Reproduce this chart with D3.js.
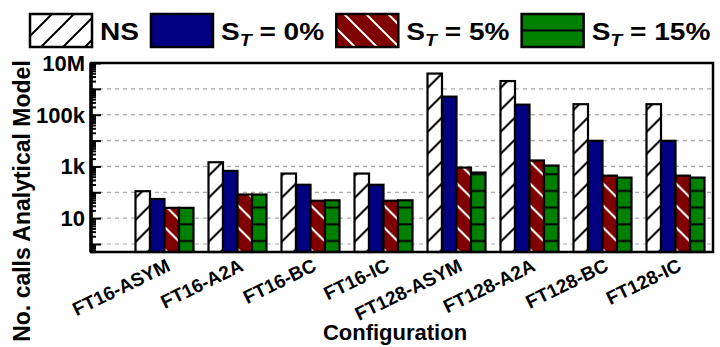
<!DOCTYPE html>
<html>
<head>
<meta charset="utf-8">
<script src="https://cdn.jsdelivr.net/npm/d3@7"></script>
<style>
  body { margin: 0; background: #fff; }
  text { font-family: "Liberation Sans", Arial, sans-serif; font-weight: bold; fill: #000; }
</style>
</head>
<body>
<script>
// chart data
var configs = ["FT16-ASYM", "FT16-A2A", "FT16-BC", "FT16-IC", "FT128-ASYM", "FT128-A2A", "FT128-BC", "FT128-IC"];
var seriesKeys = ["NS", "0%", "5%", "15%"];
var nsCalls = [110, 1450, 530, 530, 3.9e6, 2.0e6, 255000, 255000];
var st0Calls = [55, 670, 195, 195, 500000, 245000, 9800, 9800];
var st5Calls = [25, 82, 47, 47, 900, 1700, 440, 440];
var st15Calls = [25, 82, 49, 49, 580, 1080, 370, 370];
var yTickValues = [10, 1e3, 1e5, 1e7];
var yTickLabels = ["10", "1k", "100k", "10M"];

var seriesData = [nsCalls, st0Calls, st5Calls, st15Calls];

var W = 720, H = 347;
var plot = {left: 91, right: 713, top: 63, bottom: 252};

var svg = d3.select("body").append("svg")
    .attr("width", W)
    .attr("height", H);

// patterns for the bars
var defs = svg.append("defs");

function addHatch(id, size, bg, line, path) {
    var p = defs.append("pattern")
        .attr("id", id)
        .attr("patternUnits", "userSpaceOnUse")
        .attr("width", size[0])
        .attr("height", size[1]);
    p.append("rect").attr("width", size[0]).attr("height", size[1]).attr("fill", bg);
    p.append("path").attr("d", path).attr("stroke", line).attr("stroke-width", 2).attr("fill", "none");
}

addHatch("hatchNS", [22, 22], "#fff", "#000", "M0,22L22,0M-3,3L3,-3M19,25L25,19");
addHatch("hatch5", [22, 22], "#800000", "#fff", "M0,0L22,22M-3,19L3,25M19,-3L25,3");
addHatch("hatch15", [10, 16.7], "#008000", "#000", "M-1,7.2L11,7.2");
addHatch("hatch15Leg", [10, 16.7], "#008000", "#000", "M-1,13.8L11,13.8");

var barFills = ["url(#hatchNS)", "#000080", "url(#hatch5)", "url(#hatch15)"];
var legendFills = ["url(#hatchNS)", "#000080", "url(#hatch5)", "url(#hatch15Leg)"];

// scales
var x0 = d3.scaleBand().domain(configs).range([128, 712]);
var groupW = 58;
var x1 = d3.scaleBand().domain(d3.range(seriesKeys.length)).range([0, groupW]);
var y = d3.scaleLog().domain([1, 1e7]).range([244, plot.top]);
var yAll = d3.scaleLog().domain([y.invert(plot.bottom), 1e7]).range([plot.bottom, plot.top]);

function isDecade(v) {
    var e = Math.log10(v);
    return Math.abs(e - Math.round(e)) < 1e-9;
}

// grid lines at each decade
var decades = yAll.ticks().filter(function (v) {
    return isDecade(v) && v < 1e7 && v >= 1;
});

svg.append("g").selectAll("line")
    .data(decades)
    .enter().append("line")
    .attr("x1", plot.left)
    .attr("x2", plot.right)
    .attr("y1", function (d) { return y(d); })
    .attr("y2", function (d) { return y(d); })
    .attr("stroke", "#aaa")
    .attr("stroke-width", 1.2)
    .attr("stroke-dasharray", "4,4");

// bars
var groups = svg.append("g").selectAll("g")
    .data(configs)
    .enter().append("g")
    .attr("transform", function (d) {
        return "translate(" + (x0(d) + (x0.bandwidth() - groupW) / 2) + ",0)";
    });

groups.selectAll("rect")
    .data(function (d, gi) {
        return seriesData.map(function (s, si) { return {si: si, v: s[gi]}; });
    })
    .enter().append("rect")
    .attr("x", function (d) { return x1(d.si); })
    .attr("width", x1.bandwidth())
    .attr("y", function (d) { return y(d.v); })
    .attr("height", function (d) { return plot.bottom - y(d.v); })
    .attr("fill", function (d) { return barFills[d.si]; })
    .attr("stroke", "#000")
    .attr("stroke-width", 2.2);

// frame
svg.append("rect")
    .attr("x", plot.left)
    .attr("y", plot.top)
    .attr("width", plot.right - plot.left)
    .attr("height", plot.bottom - plot.top)
    .attr("fill", "none")
    .attr("stroke", "#000")
    .attr("stroke-width", 2.5);

svg.append("line")
    .attr("x1", plot.left).attr("x2", plot.left)
    .attr("y1", plot.top).attr("y2", plot.bottom)
    .attr("stroke", "#000").attr("stroke-width", 3.5);

// y axis ticks, drawn inside the frame
var yAxis = d3.axisRight(yAll)
    .tickValues(yAll.ticks())
    .tickSize(5)
    .tickFormat("");

var yg = svg.append("g")
    .attr("transform", "translate(" + plot.left + ",0)")
    .call(yAxis);
yg.select(".domain").remove();
yg.selectAll(".tick line")
    .attr("stroke", "#000")
    .attr("stroke-width", 2)
    .attr("x2", function (d) { return isDecade(d) ? 10 : 5; });

svg.append("g").selectAll("text")
    .data(yTickValues)
    .enter().append("text")
    .attr("x", 85)
    .attr("y", function (d) { return y(d) + 8; })
    .attr("text-anchor", "end")
    .style("font-size", "22px")
    .text(function (d, i) { return yTickLabels[i]; });

// x tick labels
svg.append("g").selectAll("text")
    .data(configs)
    .enter().append("text")
    .attr("transform", function (d) {
        return "translate(" + (x0(d) + x0.bandwidth() / 2 + 7) + ",270) rotate(-26)";
    })
    .attr("text-anchor", "end")
    .style("font-size", "19px")
    .text(function (d) { return d; });

// axis titles
svg.append("text")
    .attr("x", 395)
    .attr("y", 340)
    .attr("text-anchor", "middle")
    .style("font-size", "22px")
    .text("Configuration");

svg.append("text")
    .attr("transform", "translate(30,201) rotate(-90)")
    .attr("text-anchor", "middle")
    .style("font-size", "23px")
    .text("No. calls Analytical Model");

// legend
var lx = 30;
seriesKeys.forEach(function (k, i) {
    svg.append("rect")
        .attr("x", lx).attr("y", 14)
        .attr("width", 62).attr("height", 33)
        .attr("fill", legendFills[i])
        .attr("stroke", "#000")
        .attr("stroke-width", 2.5);

    var tg = svg.append("g")
        .attr("transform", "translate(" + (lx + 70) + ",40) scale(1.22,1)");
    var t = tg.append("text").style("font-size", "23px");
    if (k === "NS") {
        t.text("NS");
    } else {
        t.append("tspan").text("S");
        t.append("tspan").attr("dy", 6).style("font-size", "16px").style("font-style", "italic").text("T");
        t.append("tspan").attr("dy", -6).text(" = " + k);
    }
    lx = lx + 70 + t.node().getBBox().width * 1.22 + 12;
});
</script>
</body>
</html>
